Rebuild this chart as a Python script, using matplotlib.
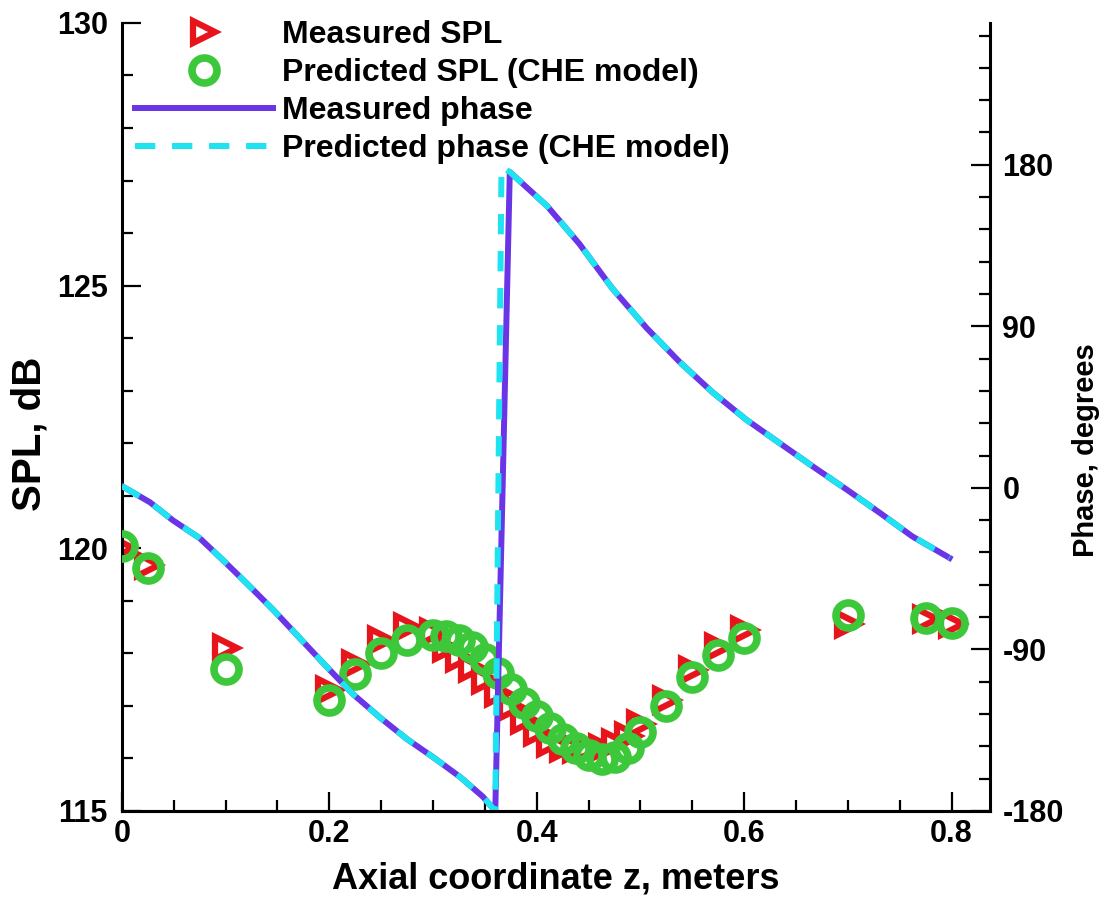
import matplotlib

matplotlib.use("Agg")
import matplotlib.pyplot as plt
from matplotlib.ticker import MultipleLocator

plt.rcParams["font.family"] = ["Liberation Sans", "DejaVu Sans"]
plt.rcParams["font.weight"] = "bold"
plt.rcParams["axes.labelweight"] = "bold"
plt.rcParams["axes.unicode_minus"] = False

# SPL samples along the duct (same stations for measurement and model)
z_spl = [0.0, 0.025, 0.1, 0.2, 0.225, 0.25, 0.275, 0.3, 0.3125, 0.325, 0.3375,
         0.35, 0.3625, 0.375, 0.3875, 0.4, 0.4125, 0.425, 0.4375, 0.45, 0.4625,
         0.475, 0.4875, 0.5, 0.525, 0.55, 0.575, 0.6, 0.7, 0.775, 0.8]
spl_measured = [120.0, 119.68, 118.1, 117.3, 117.8, 118.25, 118.5, 118.4, 118.1,
                117.92, 117.72, 117.5, 117.25, 116.98, 116.73, 116.5, 116.3, 116.2,
                116.18, 116.2, 116.2, 116.3, 116.42, 116.65, 117.12, 117.68, 118.12,
                118.45, 118.55, 118.65, 118.55]
spl_predicted = [120.05, 119.62, 117.7, 117.12, 117.6, 118.0, 118.25, 118.35, 118.33,
                 118.25, 118.12, 117.9, 117.62, 117.33, 117.05, 116.8, 116.57, 116.37,
                 116.2, 116.06, 115.98, 116.02, 116.2, 116.5, 117.0, 117.55, 117.97,
                 118.3, 118.73, 118.67, 118.58]

# phase (degrees), wrapped to [-180, 180]
z_phase_measured = [0.0, 0.027, 0.049, 0.075, 0.097, 0.12, 0.146, 0.172, 0.198, 0.223,
                    0.249, 0.275, 0.3, 0.326, 0.348, 0.36, 0.374, 0.41, 0.441, 0.473,
                    0.506, 0.538, 0.57, 0.602, 0.634, 0.666, 0.699, 0.731, 0.762, 0.798]
phase_measured = [1, -8, -18, -28, -40, -53, -68, -84, -100, -115, -128, -140, -150,
                  -161, -172, -180, 176, 157, 136, 111, 89, 70, 53, 38, 25, 12, -1,
                  -14, -27, -39]
z_phase_predicted = [0.0, 0.027, 0.049, 0.075, 0.097, 0.12, 0.146, 0.172, 0.198, 0.223,
                     0.249, 0.275, 0.3, 0.326, 0.348, 0.36, 0.366, 0.374, 0.41, 0.441,
                     0.473, 0.506, 0.538, 0.57, 0.602, 0.634, 0.666, 0.699, 0.731,
                     0.762, 0.798]
phase_predicted = [1, -8, -18, -28, -40, -53, -68, -84, -100, -115, -128, -140, -150,
                   -161, -172, -180, 179, 176, 157, 136, 111, 89, 70, 53, 38, 25, 12,
                   -1, -14, -27, -39]

RED = "#e8141b"
GREEN = "#3cc83a"
PURPLE = "#6a35e6"
CYAN = "#1ee3f0"

fig = plt.figure(figsize=(11.08, 8.97), dpi=100)
ax = fig.add_axes([0.110, 0.0959, 0.7835, 0.8785])
ax2 = ax.twinx()

h_meas, = ax.plot(z_spl, spl_measured, linestyle="none", marker=">", ms=16,
                  mfc="white", mec=RED, mew=4.5, label="Measured SPL", zorder=2)
h_pred, = ax.plot(z_spl, spl_predicted, linestyle="none", marker="o", ms=18,
                  mfc="none", mec=GREEN, mew=5.5, label="Predicted SPL (CHE model)",
                  zorder=3)

h_ph, = ax2.plot(z_phase_measured, phase_measured, color=PURPLE, lw=4.3,
                 label="Measured phase")
h_php, = ax2.plot(z_phase_predicted, phase_predicted, color=CYAN, lw=4.3,
                  dashes=(3.4, 2.8), label="Predicted phase (CHE model)")

ax.set_xlim(0, 0.837)
ax.set_ylim(115, 130)
ax2.set_ylim(-180, 259)

ax.xaxis.set_major_locator(MultipleLocator(0.2))
ax.xaxis.set_minor_locator(MultipleLocator(0.05))
ax.yaxis.set_major_locator(MultipleLocator(5))
ax.yaxis.set_minor_locator(MultipleLocator(1))
ax2.yaxis.set_major_locator(MultipleLocator(90))
ax2.yaxis.set_minor_locator(MultipleLocator(18))
ax.set_xticks([0, 0.2, 0.4, 0.6, 0.8], ["0", "0.2", "0.4", "0.6", "0.8"])

for a in (ax, ax2):
    a.spines["top"].set_visible(False)
    for s in a.spines.values():
        s.set_linewidth(2.2)
    a.tick_params(which="both", direction="in", width=1.6, labelsize=22)
    a.tick_params(which="major", length=14)
    a.tick_params(which="minor", length=8)
ax.spines["right"].set_visible(False)
ax2.spines["left"].set_visible(False)
ax.tick_params(axis="x", which="both", top=False, pad=6)
ax.tick_params(axis="y", which="both", right=False, pad=10)
ax2.tick_params(axis="y", which="both", pad=9)

ax.set_xlabel("Axial coordinate z, meters", fontsize=26, labelpad=9)
ax.set_ylabel("SPL, dB", fontsize=29)
ax2.set_ylabel("Phase, degrees", fontsize=21)
ax.yaxis.set_label_coords(-0.084, 0.478)
ax2.yaxis.set_label_coords(1.095, 0.458)

ax2.legend([h_meas, h_pred, h_ph, h_php],
           ["Measured SPL", "Predicted SPL (CHE model)", "Measured phase",
            "Predicted phase (CHE model)"],
           loc="upper left", bbox_to_anchor=(135 / 1108, 1 - 20 / 897),
           bbox_transform=fig.transFigure, frameon=False, fontsize=23,
           handlelength=4.33, handletextpad=0.28, labelspacing=0.25,
           borderpad=0, borderaxespad=0)

fig.savefig("out.png", dpi=100)
